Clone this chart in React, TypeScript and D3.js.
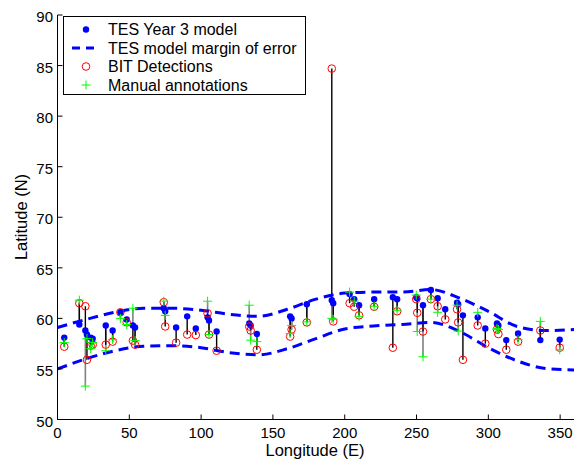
import React from 'react'
import * as d3 from 'd3'

// detections: longitude, TES model latitude, BIT latitude, manual latitude
const lonDet = [4.7, 15.2, 19.4, 20.5, 23.1, 24.5, 33.6, 38.4, 43.8, 48.2, 52.5, 54.0, 74.0, 75.0, 82.6, 90.3, 96.3, 104.5, 105.5, 110.8,
  133.5, 134.5, 138.8, 162.0, 163.0, 173.6, 191.0, 192.0, 203.4, 206.6, 210.0, 220.5, 233.5, 236.5, 249.8, 250.5, 254.5, 260.0, 264.7, 270.0,
  278.2, 279.0, 282.3, 292.6, 297.9, 306.0, 307.0, 312.5, 320.7, 336.2, 349.7]
const modelLat = [58.1, 59.4, 58.8, 58.4, 58.1, 58.0, 59.3, 58.8, 60.6, 59.9, 59.3, 59.1, 61.0, 60.7, 59.1, 60.2, 59.0, 60.1, 59.8, 58.7,
  59.5, 59.3, 58.45, 60.2, 60.0, 61.4, 61.8, 61.5, 62.4, 61.9, 61.3, 61.9, 62.1, 61.9, 62.1, 62.0, 61.3, 62.8, 62.0, 60.9,
  61.55, 61.4, 60.3, 60.1, 59.0, 59.5, 59.3, 57.85, 58.5, 57.85, 57.9]
const bitLat = [57.2, 61.5, 61.2, 55.9, 57.3, 57.4, 57.4, 57.7, 60.6, 59.6, 57.8, 57.4, 61.6, 59.2, 57.6, 58.4, 58.35, 60.5, 58.4, 56.8,
  59.2, 58.8, 56.9, 58.2, 58.9, 59.6, 84.7, 59.7, 61.5, 61.15, 60.3, 61.15, 57.1, 60.7, 61.9, 60.55, 58.7, 61.9, 61.2, 59.9,
  60.9, 59.6, 55.9, 59.3, 57.5, 58.9, 58.45, 56.9, 57.7, 58.8, 57.1]
const manualLat: (number | null)[] = [57.6, 61.8, 53.3, 58.0, 57.0, 57.6, 56.8, 57.9, 60.0, 59.4, 61.0, 57.8, 61.7, 60.3, null, null, null, 61.7, 58.4, null,
  61.3, 57.85, 57.7, 58.5, 59.3, 59.65, 60.0, 59.9, 62.6, 61.7, 60.2, 61.2, null, 60.8, 62.3, 58.7, 56.2, 61.9, 60.6, null,
  61.3, 58.75, null, 60.6, null, 59.0, 58.9, null, 57.9, 59.7, 56.9]

// margin of error curves
const marginLon = [0, 20, 40, 60, 80, 100, 120, 140, 160, 180, 200, 220, 240, 260, 280, 300, 320, 340, 360]
const upperLat = [59.1, 59.9, 60.6, 61.0, 61.0, 60.8, 60.4, 60.2, 60.9, 61.9, 62.5, 62.6, 62.6, 62.85, 62.0, 60.7, 59.2, 58.8, 58.9]
const lowerLat = [55.0, 56.0, 56.8, 57.25, 57.3, 57.1, 56.6, 56.4, 57.0, 58.0, 58.95, 59.25, 59.4, 59.6, 58.7, 57.1, 55.8, 55.05, 54.9]

const xTicks = [0, 50, 100, 150, 200, 250, 300, 350]
const yTicks = [50, 55, 60, 65, 70, 75, 80, 85, 90]

const legendLabels = ['TES Year 3 model', 'TES model margin of error', 'BIT Detections', 'Manual annotations']

const W = 574
const H = 459
const left = 57.5
const top = 15
const right = 574.5
const bottom = 419.5
const font = 'Helvetica, Arial, "Liberation Sans", sans-serif'

export default function App() {
  const x = d3.scaleLinear().domain([0, 360]).range([left, right])
  const y = d3.scaleLinear().domain([50, 90]).range([bottom, top])

  const curve = d3.line<number>()
    .x((d, i) => x(marginLon[i]))
    .y(d => y(d))
    .curve(d3.curveMonotoneX)

  const dets = lonDet.map((lon, i) => ({ lon, m: modelLat[i], b: bitLat[i], g: manualLat[i] }))

  return (
    <svg width={W} height={H} style={{ position: 'absolute', left: 0, top: 0, background: '#fff' }} fontFamily={font}>
      <rect width={W} height={H} fill="#fff" />

      {/* lines model -> manual */}
      {dets.filter(d => d.g != null).map((d, i) => (
        <line key={'g' + i} x1={x(d.lon)} x2={x(d.lon)} y1={y(d.m)} y2={y(d.g as number)} stroke="#808080" strokeWidth={1.6} />
      ))}
      {/* lines model -> BIT */}
      {dets.map((d, i) => (
        <line key={'k' + i} x1={x(d.lon)} x2={x(d.lon)} y1={y(d.m)} y2={y(d.b)} stroke="#000" strokeWidth={1.4} />
      ))}

      {dets.map((d, i) => (
        <circle key={'m' + i} cx={x(d.lon)} cy={y(d.m)} r={3.2} fill="#0000ff" />
      ))}

      <path d={curve(upperLat) || ''} fill="none" stroke="#0000ff" strokeWidth={3} strokeDasharray="10,6" />
      <path d={curve(lowerLat) || ''} fill="none" stroke="#0000ff" strokeWidth={3} strokeDasharray="10,6" />

      {dets.map((d, i) => (
        <circle key={'b' + i} cx={x(d.lon)} cy={y(d.b)} r={3.8} fill="none" stroke="#ff0000" strokeWidth={1} />
      ))}
      {dets.filter(d => d.g != null).map((d, i) => {
        const cx = x(d.lon)
        const cy = y(d.g as number)
        return (
          <path key={'p' + i} d={`M${cx - 4.5},${cy}H${cx + 4.5}M${cx},${cy - 4.5}V${cy + 4.5}`} stroke="#00ff00" strokeWidth={1} fill="none" />
        )
      })}

      {/* axes */}
      <line x1={left} x2={left} y1={top} y2={bottom} stroke="#000" strokeWidth={1} />
      <line x1={left} x2={W} y1={bottom} y2={bottom} stroke="#000" strokeWidth={1} />
      {xTicks.map(t => (
        <g key={'xt' + t}>
          <line x1={x(t)} x2={x(t)} y1={bottom} y2={bottom - 5} stroke="#000" />
          <text x={x(t)} y={bottom + 18} textAnchor="middle" fontSize={15}>{t}</text>
        </g>
      ))}
      {yTicks.map(t => (
        <g key={'yt' + t}>
          <line x1={left} x2={left + 5} y1={y(t)} y2={y(t)} stroke="#000" />
          <text x={left - 4.5} y={y(t) + 7} textAnchor="end" fontSize={15}>{t}</text>
        </g>
      ))}
      <text x={315} y={456} textAnchor="middle" fontSize={16.5}>Longitude (E)</text>
      <text transform="translate(27,217) rotate(-90)" textAnchor="middle" fontSize={16.5}>Latitude (N)</text>

      {/* legend */}
      <rect x={63.5} y={16.5} width={242} height={78} fill="#fff" stroke="#000" strokeWidth={1} />
      {legendLabels.map((lab, i) => {
        const cy = 29.5 + i * 18.5
        return (
          <g key={'lg' + i}>
            {i === 0 && <circle cx={86} cy={cy} r={3.2} fill="#0000ff" />}
            {i === 1 && <line x1={72} x2={100} y1={cy} y2={cy} stroke="#0000ff" strokeWidth={3} strokeDasharray="8,6" />}
            {i === 2 && <circle cx={86} cy={cy} r={3.8} fill="none" stroke="#ff0000" />}
            {i === 3 && <path d={`M${81.5},${cy}H${90.5}M86,${cy - 4.5}V${cy + 4.5}`} stroke="#00ff00" strokeWidth={1} />}
            <text x={108} y={cy + 5.5} fontSize={16}>{lab}</text>
          </g>
        )
      })}
    </svg>
  )
}
